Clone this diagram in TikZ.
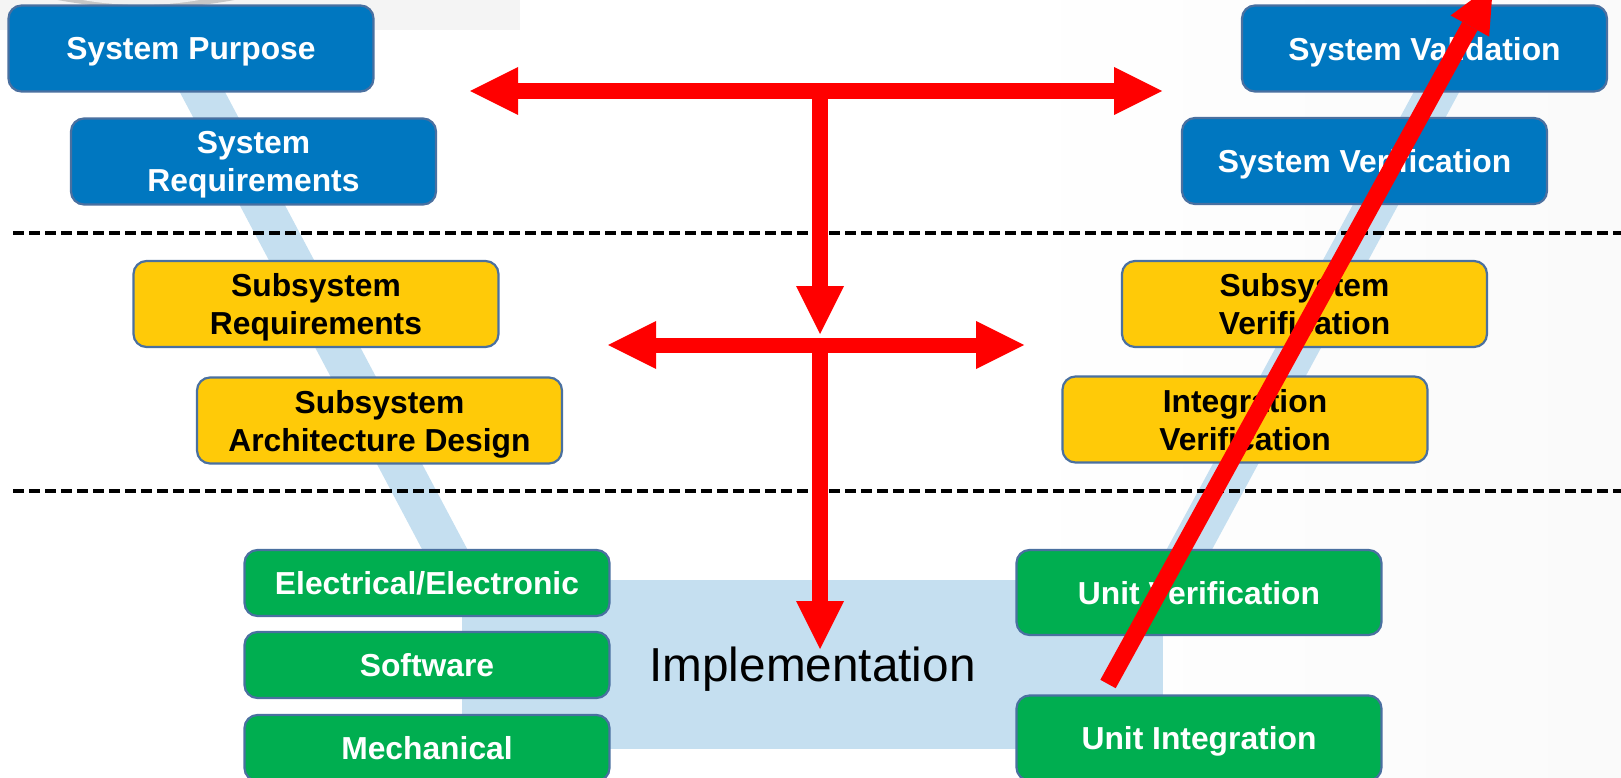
\documentclass[tikz,border=0pt]{standalone}
\usepackage{fontspec}
\setmainfont{Liberation Sans}
\usetikzlibrary{arrows.meta}

\definecolor{boxblue}{HTML}{0077C0}
\definecolor{boxyellow}{HTML}{FFCA08}
\definecolor{boxgreen}{HTML}{00AE50}
\definecolor{boxedge}{HTML}{4A70A0}
\definecolor{vband}{HTML}{C5DFF0}
\definecolor{arrowred}{HTML}{FF0000}

\begin{document}
\begin{tikzpicture}[x=1pt, y=-1pt,
  stage/.style={draw=boxedge, line width=2.2pt, rounded corners=13pt,
    minimum width=365pt, minimum height=86pt, inner sep=0pt, align=center,
    text depth=-3pt,
    font=\fontsize{31.8pt}{38pt}\selectfont\bfseries},
  sysbox/.style={stage, fill=boxblue, text=white},
  subbox/.style={stage, fill=boxyellow, text=black},
  unitbox/.style={stage, fill=boxgreen, text=white},
  lowered/.style={execute at begin node={\vspace*{#1}}},
  levelline/.style={draw=black, line width=4pt, dash pattern=on 11pt off 5pt},
  vbandline/.style={draw=vband, line width=40pt},
  flow/.style={draw=arrowred, line width=16pt},
  redtip/.tip={Triangle[length=48pt, width=48pt, line width=0pt]},
  slimtip/.tip={Triangle[length=48pt, width=44pt, line width=0pt]}
]
\path[use as bounding box] (0,0) rectangle (1621,778);
\clip (0,0) rectangle (1621,778);

% faint backdrop
\shade[left color=white, right color=gray!4] (1000,0) rectangle (1621,778);
\fill[gray!9] (0,0) rectangle (520,30);
\fill[gray!45] (146,-480) circle[radius=488pt];
\fill[gray!12] (141,-334) circle[radius=339pt];

% the V band
\coordinate (lb-top) at (169.5,30);
\coordinate (lb-bot) at (471.6,600);
\coordinate (rb-top) at (1470,30);
\coordinate (rb-bot) at (1162,600);
\draw[vbandline] (lb-top) -- (lb-bot);
\draw[vbandline] (rb-top) -- (rb-bot);
\node[fill=vband, minimum width=701pt, minimum height=169pt, inner sep=0pt,
  text depth=-7pt,
  font=\fontsize{47.7pt}{57pt}\selectfont] (impl) at (812.5,664.5) {Implementation};

% level separators
\coordinate (l1-a) at (13,233);  \coordinate (l1-b) at (1621,233);
\coordinate (l2-a) at (13,491);  \coordinate (l2-b) at (1621,491);
\draw[levelline] (l1-a) -- (l1-b);
\draw[levelline] (l2-a) -- (l2-b);

% left side
\node[sysbox] (sp) at (191,48.5) {System Purpose};
\node[sysbox, lowered=6pt] (sr) at (253.5,161.5) {System\\Requirements};
\node[subbox] (ssr) at (316,304) {Subsystem\\Requirements};
\node[subbox] (sad) at (379.5,420.5) {Subsystem\\Architecture Design};
\node[unitbox, minimum height=66pt] (ee) at (427,583) {Electrical/Electronic};
\node[unitbox, minimum height=66pt] (sw) at (427,665) {Software};
\node[unitbox, minimum height=66pt] (mech) at (427,748) {Mechanical};

% right side
\node[sysbox] (sval) at (1424.5,48.5) {System Validation};
\node[sysbox] (sver) at (1364.5,161) {System Verification};
\node[subbox] (ssv) at (1304.5,304) {Subsystem\\Verification};
\node[subbox, lowered=4pt] (iv) at (1245,419.5) {Integration\\Verification};
\node[unitbox, minimum height=85pt] (uv) at (1199,592.5) {Unit Verification};
\node[unitbox, minimum height=85pt] (ui) at (1199,738) {Unit Integration};

% red flow arrows
\coordinate (h1-l) at (470,91);   \coordinate (h1-r) at (1162,91);
\coordinate (h1-m) at (820,91);   \coordinate (v1-tip) at (820,334);
\coordinate (h2-l) at (608,345);  \coordinate (h2-r) at (1024,345);
\coordinate (h2-m) at (820,345);  \coordinate (v2-tip) at (820,649);
\coordinate (d-start) at (1108,684); \coordinate (d-tip) at (1493,-16);

\draw[flow, redtip-redtip] (h1-l) -- (h1-r);
\draw[flow, -redtip] (h1-m) -- (v1-tip);
\draw[flow, line width=15pt, redtip-redtip] (h2-l) -- (h2-r);
\draw[flow, -redtip] (h2-m) -- (v2-tip);
\draw[flow, line width=17.5pt, -slimtip] (d-start) -- (d-tip);
\end{tikzpicture}
\end{document}
